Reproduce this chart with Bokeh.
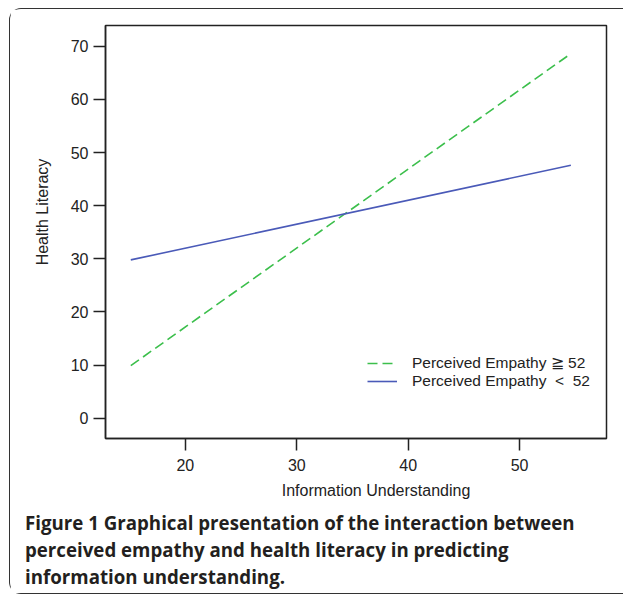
import numpy as np
from bokeh.plotting import figure
from bokeh.models import FixedTicker, Legend, LegendItem, Range1d, Title
from bokeh.embed import file_html
from bokeh.resources import INLINE

# data
info_understanding = [15.1, 54.6]
high_empathy = [9.9, 68.6]   # Perceived Empathy >= 52
low_empathy = [29.8, 47.6]   # Perceived Empathy < 52
x_ticks = [20, 30, 40, 50]
y_ticks = [0, 10, 20, 30, 40, 50, 60, 70]
legend_labels = ["Perceived Empathy \u2267 52", "Perceived Empathy \u00a0<\u00a0 52"]
x_label = "Information Understanding"
y_label = "Health Literacy"
caption_lines = [
    "Figure 1 Graphical presentation of the interaction between",
    "perceived empathy and health literacy in predicting",
    "information understanding.",
]

FONT = "Liberation Sans"
INK = "#222222"
PAD = "\u00a0" * 9

p = figure(width=614, height=586, output_backend="svg", toolbar_location=None,
           x_range=Range1d(12.83, 57.8), y_range=Range1d(-3.8, 73.9),
           min_border_left=95, min_border_right=18, min_border_top=16, min_border_bottom=157,
           background_fill_color="white", border_fill_color="white",
           styles={"margin-left": "9px", "margin-top": "8px",
                   "border-left": "1.5px solid #333", "border-top": "1.5px solid #333",
                   "border-bottom": "1.5px solid #333", "border-top-left-radius": "12px",
                   "border-bottom-left-radius": "12px"})
p.grid.visible = False
p.outline_line_color = INK
p.outline_line_width = 1.5
p.outline_line_alpha = 1.0

for ax, ticks in ((p.xaxis[0], x_ticks), (p.yaxis[0], y_ticks)):
    ax.ticker = FixedTicker(ticks=ticks)
    ax.major_tick_out = 12
    ax.major_tick_in = 0
    ax.minor_tick_line_color = None
    ax.axis_line_color = INK
    ax.axis_line_width = 1.5
    ax.major_tick_line_color = INK
    ax.major_tick_line_width = 1.5
    ax.major_label_text_font = FONT
    ax.major_label_text_font_size = "16px"
    ax.major_label_text_color = INK
    ax.axis_label_text_font = FONT
    ax.axis_label_text_font_size = "16px"
    ax.axis_label_text_font_style = "normal"
    ax.axis_label_text_color = INK
p.xaxis.major_label_standoff = 8
p.yaxis.major_label_standoff = 5
p.xaxis.axis_label = PAD + x_label
p.yaxis.axis_label = PAD + y_label
p.xaxis.axis_label_standoff = 8
p.yaxis.axis_label_standoff = 17

r_hi = p.line(info_understanding, high_empathy, line_color="#3cbf4c", line_width=1.6, line_dash="10 5")
r_lo = p.line(info_understanding, low_empathy, line_color="#4a5ab8", line_width=1.6)

legend = Legend(items=[LegendItem(label=legend_labels[0], renderers=[r_hi]),
                       LegendItem(label=legend_labels[1], renderers=[r_lo])],
                location=(262, 48), padding=0, margin=0, spacing=0,
                glyph_width=30, glyph_height=18, label_height=18, label_standoff=15,
                label_text_font=FONT, label_text_font_size="15.5px", label_text_color=INK,
                border_line_color=None, background_fill_alpha=0)
p.add_layout(legend)

caption = Title(text="\n".join(caption_lines), align="left", offset=-80.5, standoff=12,
                text_font="Open Sans", text_font_style="bold", text_font_size="18.7px",
                text_color="#231f20", text_line_height=1.07)
p.add_layout(caption, "below")

open("out.html", "w").write(file_html(p, INLINE))
